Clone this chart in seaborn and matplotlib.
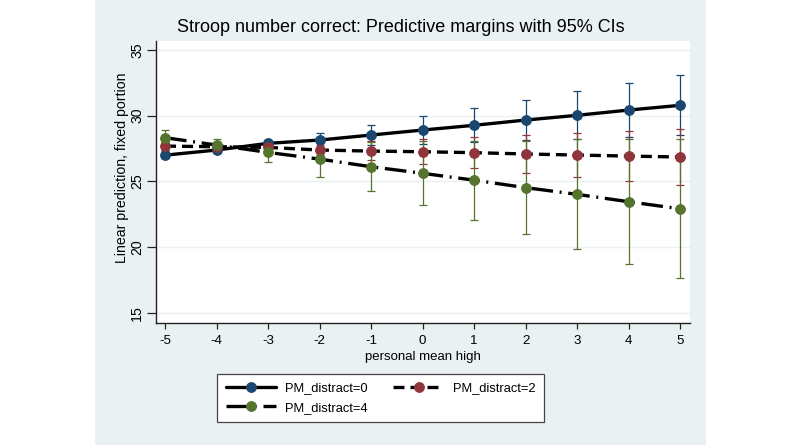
import matplotlib

matplotlib.use("Agg")
import matplotlib.patches as mpatches
import matplotlib.pyplot as plt
import numpy as np
import pandas as pd
import seaborn as sns

# personal mean high values
X_VALUES = [-5, -4, -3, -2, -1, 0, 1, 2, 3, 4, 5]

# PM_distract=0
PM0_MARGIN = [27.0, 27.39, 27.9, 28.15, 28.53, 28.91, 29.27, 29.67, 30.03, 30.43, 30.79]
PM0_LOWER = [26.75, 27.15, 27.6, 27.6, 27.75, 27.85, 28.0, 28.15, 28.2, 28.35, 28.5]
PM0_UPPER = [27.3, 27.6, 28.15, 28.7, 29.3, 29.95, 30.55, 31.2, 31.85, 32.5, 33.1]

# PM_distract=2
PM2_MARGIN = [27.69, 27.64, 27.59, 27.39, 27.31, 27.26, 27.19, 27.09, 27.01, 26.93, 26.86]
PM2_LOWER = [27.4, 27.4, 27.3, 27.0, 26.6, 26.3, 26.0, 25.65, 25.35, 25.05, 24.75]
PM2_UPPER = [28.0, 27.9, 27.9, 27.8, 28.1, 28.2, 28.4, 28.55, 28.7, 28.85, 29.0]

# PM_distract=4
PM4_MARGIN = [28.33, 27.77, 27.21, 26.7, 26.12, 25.62, 25.1, 24.53, 24.02, 23.46, 22.92]
PM4_LOWER = [27.8, 27.35, 26.45, 25.35, 24.25, 23.2, 22.1, 21.0, 19.85, 18.75, 17.65]
PM4_UPPER = [28.9, 28.2, 27.95, 28.05, 28.0, 28.05, 28.1, 28.1, 28.2, 28.2, 28.2]

SERIES = [
    ("PM_distract=0", PM0_MARGIN, PM0_LOWER, PM0_UPPER, "#1a476f", "-"),
    ("PM_distract=2", PM2_MARGIN, PM2_LOWER, PM2_UPPER, "#90353b", (0, (3.3, 1.8))),
    ("PM_distract=4", PM4_MARGIN, PM4_LOWER, PM4_UPPER, "#55752f", (0, (6.5, 2.0, 0.6, 2.0))),
]

BG = "#eaf1f3"
W, H = 800, 445

sns.set_theme(style="white")
plt.rcParams["font.family"] = ["Liberation Sans", "DejaVu Sans"]
plt.rcParams["text.color"] = "black"
plt.rcParams["axes.labelcolor"] = "black"
plt.rcParams["axes.unicode_minus"] = False

fig = plt.figure(figsize=(W / 100, H / 100), dpi=100)
fig.patch.set_facecolor("white")
fig.patches.append(
    mpatches.Rectangle((95 / W, 0), (706 - 95) / W, 1, transform=fig.transFigure,
                       facecolor=BG, edgecolor="none", zorder=-10)
)

ax = fig.add_axes([156 / W, 1 - 323 / H, (690 - 156) / W, (323 - 41) / H])
ax.set_facecolor("white")

for label, margin, lower, upper, color, ls in SERIES:
    df = pd.DataFrame({"x": X_VALUES, "y": margin, "lo": lower, "hi": upper})
    y = np.asarray(df["y"])
    ax.errorbar(df["x"], y, yerr=[y - df["lo"], df["hi"] - y], fmt="none",
                ecolor=color, elinewidth=0.9, capsize=3, capthick=0.9, zorder=2)

handles = {}
for label, margin, lower, upper, color, ls in SERIES:
    df = pd.DataFrame({"x": X_VALUES, "y": margin})
    sns.lineplot(data=df, x="x", y="y", ax=ax, color="black", linewidth=2.4,
                 linestyle=ls, marker="o", markersize=7, markerfacecolor=color,
                 markeredgecolor=color, zorder=3)
    handles[label] = ax.lines[-1]

ax.set_xlim(-5.175, 5.19)
ax.set_ylim(14.24, 35.68)
ax.set_xticks(X_VALUES)
ax.set_yticks([15, 20, 25, 30, 35])
ax.yaxis.grid(True, color=BG, linewidth=1.0)
ax.set_axisbelow(True)
for side in ("top", "right"):
    ax.spines[side].set_visible(False)
for side in ("left", "bottom"):
    ax.spines[side].set_color("#222222")
    ax.spines[side].set_linewidth(1.0)
ax.tick_params(axis="x", direction="out", length=4.5, width=0.9, color="#222222",
               labelsize=9.6, labelcolor="black", bottom=True, pad=4)
ax.tick_params(axis="y", direction="out", length=6.5, width=0.9, color="#222222",
               labelsize=10.2, labelcolor="black", left=True, pad=2)
for t in ax.get_yticklabels():
    t.set_rotation(90)
    t.set_va("center")

ax.set_xlabel("personal mean high", fontsize=9.5, labelpad=3)
ax.set_ylabel("Linear prediction, fixed portion", fontsize=10.2)
ax.yaxis.set_label_coords(-0.051, 0.551)

fig.text(400.5 / W, 1 - 27 / H, "Stroop number correct: Predictive margins with 95% CIs",
         ha="center", va="center", fontsize=13)

order = ["PM_distract=0", "PM_distract=4", "PM_distract=2"]
leg = fig.legend([handles[k] for k in order], order, ncol=2, loc="center",
                 bbox_to_anchor=(380.5 / W, 1 - 398 / H), frameon=True, fancybox=False,
                 framealpha=1, fontsize=9.3, handlelength=3.9, columnspacing=2.0,
                 borderpad=0.65, labelspacing=0.6, handletextpad=0.7)
leg.get_frame().set_edgecolor("#444444")
leg.get_frame().set_linewidth(0.9)
leg.get_frame().set_facecolor("white")

fig.savefig("out.png", dpi=100, facecolor=fig.get_facecolor())
